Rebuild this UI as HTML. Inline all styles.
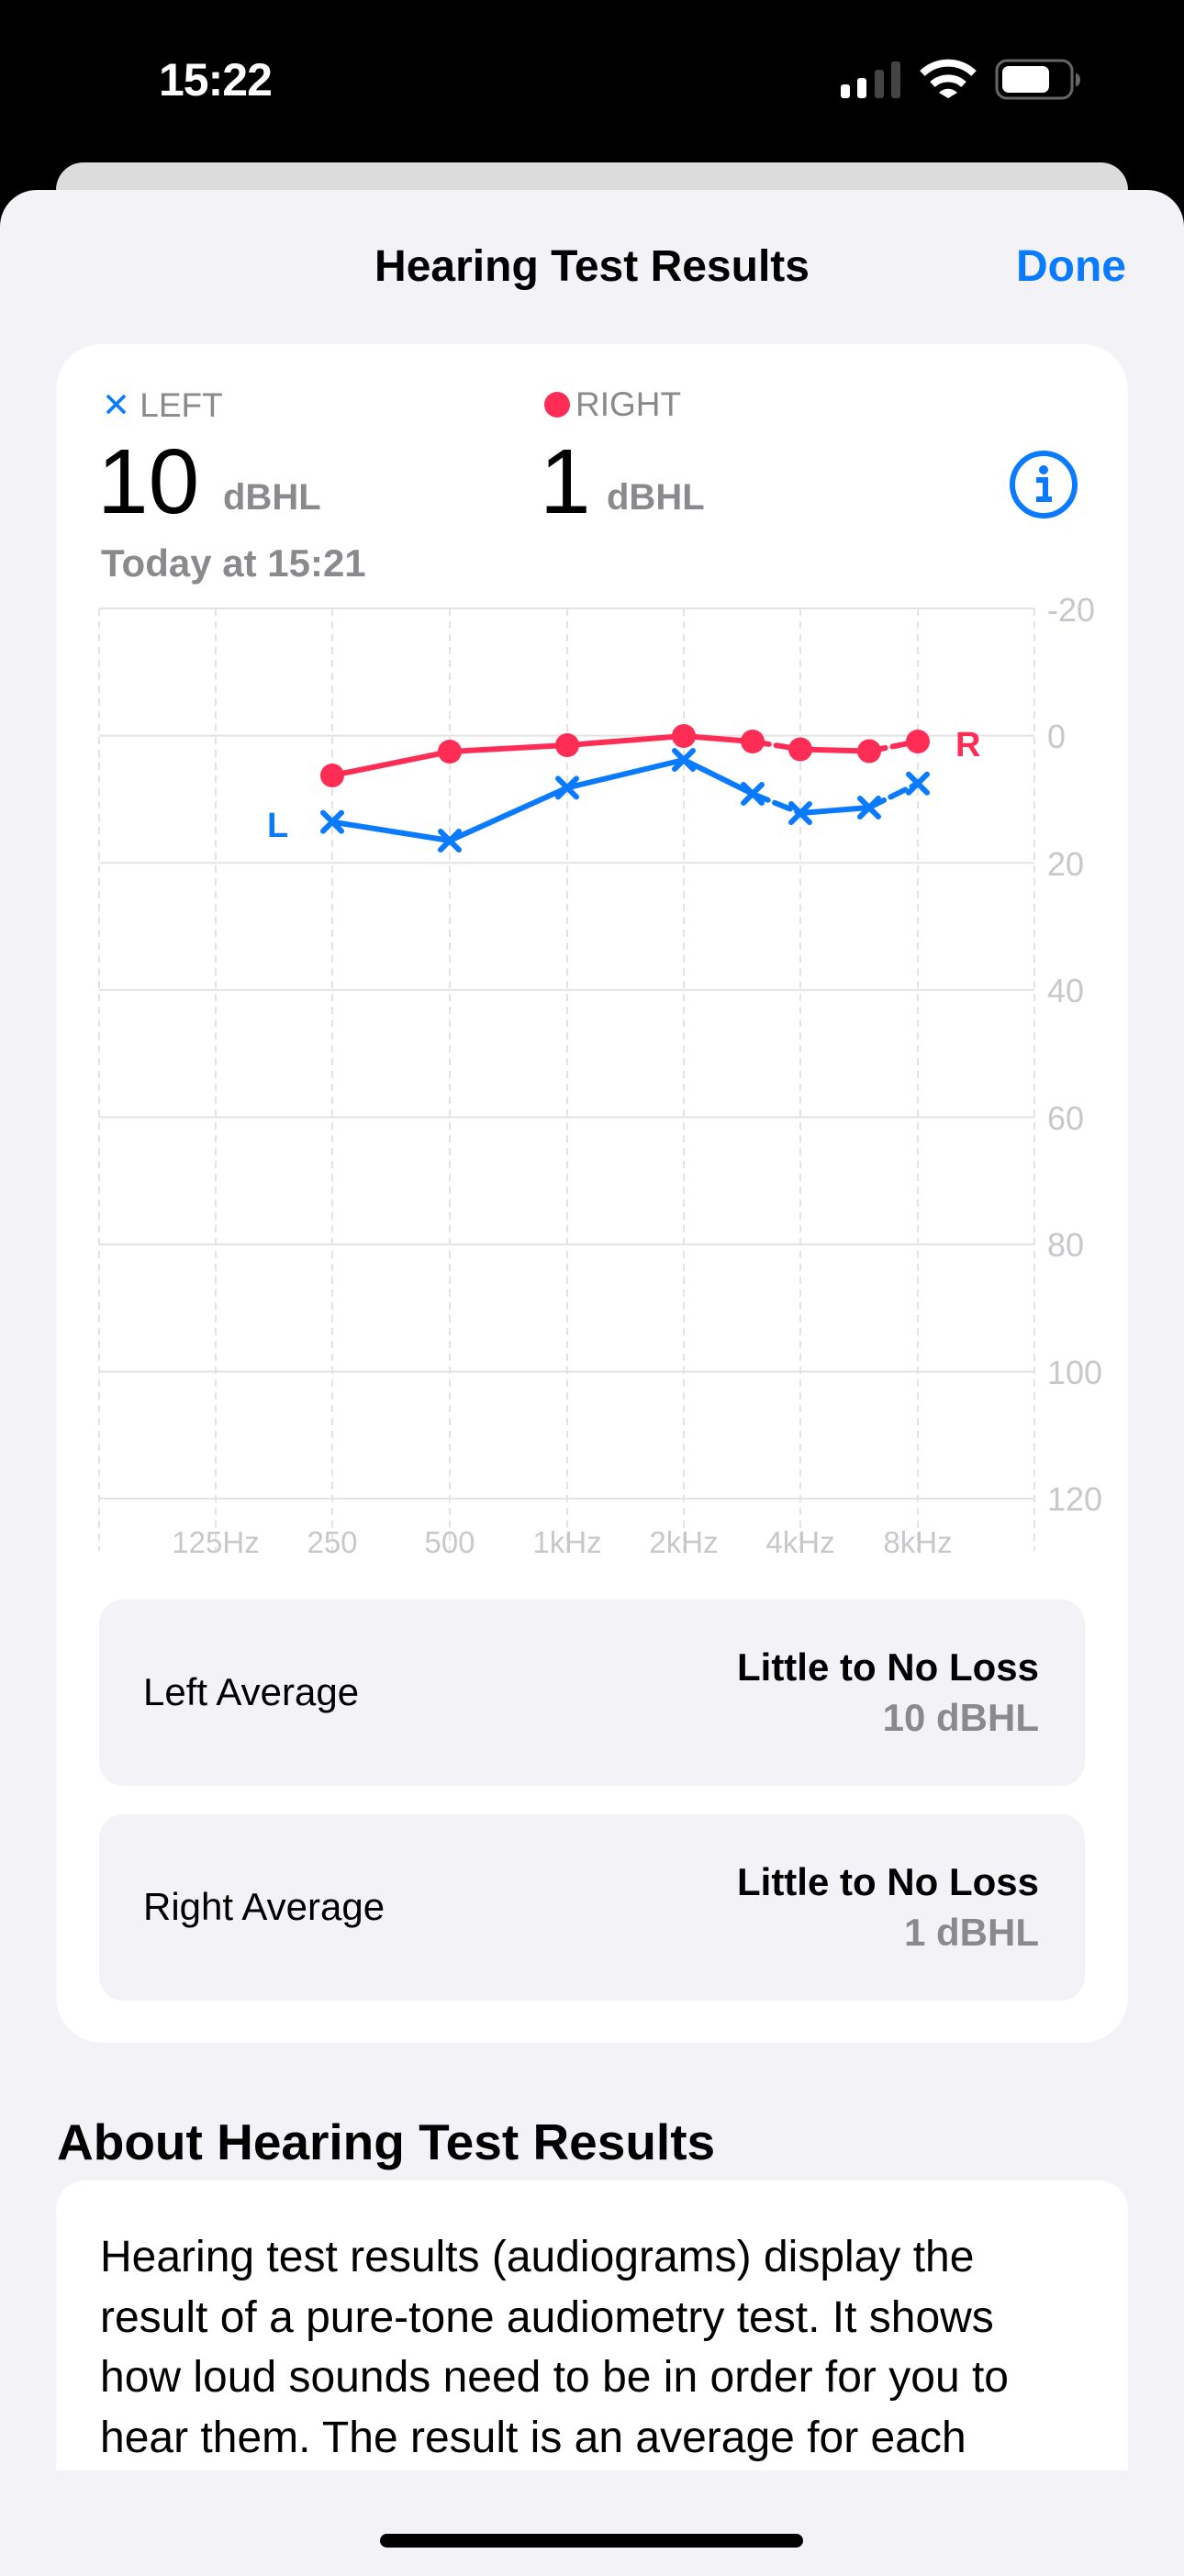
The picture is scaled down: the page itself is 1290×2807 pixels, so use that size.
<!DOCTYPE html>
<html><head><meta charset="utf-8"><style>
*{margin:0;padding:0;box-sizing:border-box}
body{width:1290px;height:2796px;background:#000;position:relative;overflow:hidden;font-family:"Liberation Sans","DejaVu Sans",sans-serif}
.a{position:absolute;white-space:nowrap}
</style></head><body>
<div class="a" style="left:173px;top:58px;font-size:50px;font-weight:bold;color:#fff;letter-spacing:-1px">15:22</div>
<svg class="a" style="left:0;top:0" width="1290" height="200">
<rect x="916" y="92" width="10" height="15" rx="3" fill="#fff"/>
<rect x="934" y="85" width="10" height="22" rx="3" fill="#fff"/>
<rect x="953" y="76" width="10" height="31" rx="3" fill="#444"/>
<rect x="971" y="67" width="10" height="40" rx="3" fill="#444"/>
<path d="M1005 80 A40 40 0 0 1 1061 80" stroke="#fff" stroke-width="8" fill="none"/>
<path d="M1016 92 A25 25 0 0 1 1050 92" stroke="#fff" stroke-width="8" fill="none"/>
<path d="M1023 101 L1033 107 L1043 101 A14 14 0 0 0 1023 101Z" fill="#fff"/>
<rect x="1086" y="66" width="82" height="41" rx="11" fill="none" stroke="#666" stroke-width="3"/>
<rect x="1092" y="72" width="51" height="29" rx="7" fill="#fff"/>
<path d="M1172 80 A5 7 0 0 1 1172 94Z" fill="#666"/>
</svg>
<div class="a" style="left:61px;top:177px;width:1168px;height:80px;background:#dcdcdc;border-radius:30px 30px 0 0"></div>
<div class="a" style="left:0;top:207px;width:1290px;height:2600px;background:#f2f2f7;border-radius:40px 40px 0 0"></div>
<div class="a" style="left:0;top:263px;width:1290px;text-align:center;font-size:48px;font-weight:bold;color:#000">Hearing Test Results</div>
<div class="a" style="left:1107px;top:263px;font-size:48px;font-weight:bold;color:#0a7aff">Done</div>

<div class="a" style="left:61px;top:375px;width:1168px;height:1851px;background:#fff;border-radius:50px"></div>
<div class="a" style="left:111px;top:420px;font-size:37px;color:#8a8a8e"><span style="color:#0a7aff;font-weight:bold">✕</span> LEFT</div>
<div class="a" style="left:593px;top:420px;font-size:37px;color:#8a8a8e"><span style="display:inline-block;width:28px;height:28px;border-radius:50%;background:#ff2d55;vertical-align:-2px;margin-right:6px"></span>RIGHT</div>
<div class="a" style="left:106px;top:468px;font-size:100px;color:#000">10</div>
<div class="a" style="left:243px;top:520px;font-size:40px;color:#8a8a8e;font-weight:bold">dBHL</div>
<div class="a" style="left:588px;top:468px;font-size:100px;color:#000">1</div>
<div class="a" style="left:661px;top:520px;font-size:40px;color:#8a8a8e;font-weight:bold">dBHL</div>
<svg class="a" style="left:1097px;top:488px" width="80" height="80"><circle cx="40" cy="40" r="34" fill="none" stroke="#0a7aff" stroke-width="6"/><circle cx="40" cy="24" r="5" fill="#0a7aff"/><path d="M32 35H42V56M32 56H49" stroke="#0a7aff" stroke-width="6" fill="none"/></svg>
<div class="a" style="left:110px;top:590px;font-size:42px;font-weight:bold;color:#8a8a8e">Today at 15:21</div>

<svg class="a" style="left:0;top:0" width="1290" height="1720">
<g stroke="#e3e3e3" stroke-width="2">
<line x1="108" y1="663" x2="1127" y2="663"/><line x1="108" y1="801.6" x2="1127" y2="801.6"/><line x1="108" y1="940.2" x2="1127" y2="940.2"/><line x1="108" y1="1078.8" x2="1127" y2="1078.8"/><line x1="108" y1="1217.4" x2="1127" y2="1217.4"/><line x1="108" y1="1356" x2="1127" y2="1356"/><line x1="108" y1="1494.6" x2="1127" y2="1494.6"/><line x1="108" y1="1633" x2="1127" y2="1633"/>
</g>
<g stroke="#e3e3e3" stroke-width="2" stroke-dasharray="8 6">
<line x1="108" y1="663" x2="108" y2="1690"/><line x1="235" y1="663" x2="235" y2="1690"/><line x1="362" y1="663" x2="362" y2="1690"/><line x1="490" y1="663" x2="490" y2="1690"/><line x1="618" y1="663" x2="618" y2="1690"/><line x1="745" y1="663" x2="745" y2="1690"/><line x1="872" y1="663" x2="872" y2="1690"/><line x1="1000" y1="663" x2="1000" y2="1690"/><line x1="1127" y1="663" x2="1127" y2="1690"/>
</g>
<g font-size="36" fill="#c7c7cc" font-family="Liberation Sans,sans-serif">
<text x="1141" y="677">-20</text><text x="1141" y="815">0</text><text x="1141" y="954">20</text><text x="1141" y="1092">40</text><text x="1141" y="1231">60</text><text x="1141" y="1369">80</text><text x="1141" y="1508">100</text><text x="1141" y="1646">120</text>
</g>
<g font-size="33" fill="#c7c7cc" text-anchor="middle" font-family="Liberation Sans,sans-serif">
<text x="235" y="1692">125Hz</text><text x="362" y="1692">250</text><text x="490" y="1692">500</text><text x="618" y="1692">1kHz</text><text x="745" y="1692">2kHz</text><text x="872" y="1692">4kHz</text><text x="1000" y="1692">8kHz</text>
</g>
<g stroke="#ff2d55" stroke-width="6" fill="none" stroke-linecap="round">
<polyline points="362,845 490,819 618,812 745,802 820,808"/>
<polyline points="820,808 872,816.5" stroke-dasharray="18 8"/>
<polyline points="872,816.5 947,818.5"/>
<polyline points="947,818.5 1000,808" stroke-dasharray="18 8"/>
</g>
<g fill="#ff2d55">
<circle cx="362" cy="845" r="13"/><circle cx="490" cy="819" r="13"/><circle cx="618" cy="812" r="13"/><circle cx="745" cy="802" r="13"/><circle cx="820" cy="808" r="13"/><circle cx="872" cy="816.5" r="13"/><circle cx="947" cy="818.5" r="13"/><circle cx="1000" cy="808" r="13"/>
</g>
<g stroke="#0a7aff" stroke-width="6" fill="none" stroke-linecap="round">
<polyline points="362,895.6 490,916 618,858.4 745,828 820,865"/>
<polyline points="820,865 872,886" stroke-dasharray="18 8"/>
<polyline points="872,886 947,880"/>
<polyline points="947,880 1000,853.7" stroke-dasharray="18 8"/>
</g>
<g stroke="#0a7aff" stroke-width="6" stroke-linecap="round">
<path d="M352 885.6l20 20m0-20l-20 20 M480 906l20 20m0-20l-20 20 M608 848.4l20 20m0-20l-20 20 M735 818l20 20m0-20l-20 20 M810 855l20 20m0-20l-20 20 M862 876l20 20m0-20l-20 20 M937 870l20 20m0-20l-20 20 M990 843.7l20 20m0-20l-20 20"/>
</g>
<text x="291" y="912" font-size="38" font-weight="bold" fill="#0a7aff" font-family="Liberation Sans,sans-serif">L</text>
<text x="1041" y="824" font-size="38" font-weight="bold" fill="#ff2d55" font-family="Liberation Sans,sans-serif">R</text>
</svg>

<div class="a" style="left:108px;top:1743px;width:1074px;height:203px;background:#f2f2f7;border-radius:26px"></div>
<div class="a" style="left:156px;top:1820px;font-size:42px;color:#000">Left Average</div>
<div class="a" style="left:600px;top:1793px;width:532px;text-align:right;font-size:42px;font-weight:bold;color:#000">Little to No Loss</div>
<div class="a" style="left:600px;top:1848px;width:532px;text-align:right;font-size:42px;font-weight:bold;color:#8a8a8e">10 dBHL</div>
<div class="a" style="left:108px;top:1977px;width:1074px;height:203px;background:#f2f2f7;border-radius:26px"></div>
<div class="a" style="left:156px;top:2054px;font-size:42px;color:#000">Right Average</div>
<div class="a" style="left:600px;top:2027px;width:532px;text-align:right;font-size:42px;font-weight:bold;color:#000">Little to No Loss</div>
<div class="a" style="left:600px;top:2082px;width:532px;text-align:right;font-size:42px;font-weight:bold;color:#8a8a8e">1 dBHL</div>

<div class="a" style="left:62px;top:2302px;font-size:55px;font-weight:bold;color:#000">About Hearing Test Results</div>
<div class="a" style="left:61px;top:2376px;width:1168px;height:316px;background:#fff;border-radius:32px 32px 0 0"></div>
<div class="a" style="left:109px;top:2427px;font-size:48px;line-height:65.5px;color:#000;white-space:normal;width:1115px">Hearing test results (audiograms) display the<br>result of a pure-tone audiometry test. It shows<br>how loud sounds need to be in order for you to<br>hear them. The result is an average for each</div>
<div class="a" style="left:0;top:2692px;width:1290px;height:104px;background:#f2f2f7"></div>
<div class="a" style="left:414px;top:2761px;width:461px;height:15px;border-radius:8px;background:#000"></div>
</body></html>
